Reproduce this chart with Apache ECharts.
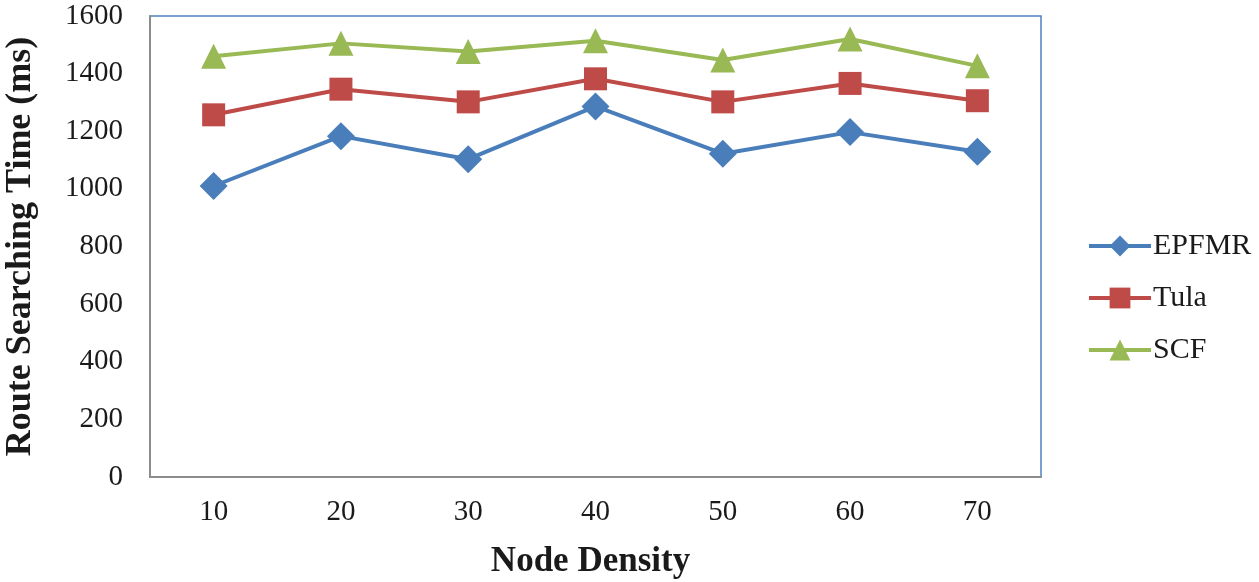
<!DOCTYPE html>
<html>
<head>
<meta charset="utf-8">
<script src="https://cdn.jsdelivr.net/npm/echarts@6/dist/echarts.min.js"></script>
<style>html,body{margin:0;padding:0;background:#fff}#c{width:1259px;height:582px}</style>
</head>
<body>
<div id="c"></div>
<script>
const categories = ['10','20','30','40','50','60','70'];
const epfmr = [1010, 1183, 1103, 1286, 1122, 1197, 1129];
const tula = [1257, 1346, 1302, 1382, 1302, 1366, 1306];
const scf = [1460, 1505, 1477, 1514, 1447, 1520, 1427];
const yTicks = {min: 0, max: 1600, interval: 200};

const font = 'Liberation Serif, Times New Roman, serif';
const chart = echarts.init(document.getElementById('c'));
function ser(name, data, color, symbol, size) {
  return {
    name, type: 'line', data, symbol, symbolSize: size,
    lineStyle: {color, width: 4}, itemStyle: {color},
    emphasis: {disabled: true}, animation: false
  };
}
chart.setOption({
  animation: false,
  grid: {left: 150, right: 218, top: 16, bottom: 105, containLabel: false, outerBoundsMode: 'none',
         show: true, borderColor: '#4F81BD', borderWidth: 1.5, backgroundColor: 'transparent'},
  legend: {
    orient: 'vertical', left: 1082, top: 226, itemGap: 22, itemWidth: 62, itemHeight: 26,
    lineStyle: {width: 4},
    textStyle: {fontFamily: font, fontSize: 30, color: '#1a1a1a', padding: [0,0,0,-3]},
    data: ['EPFMR','Tula','SCF']
  },
  xAxis: {
    type: 'category', data: categories, boundaryGap: true,
    name: 'Node Density', nameLocation: 'middle', nameGap: 67,
    nameTextStyle: {fontFamily: font, fontSize: 35, fontWeight: 'bold', color: '#1a1a1a', padding: [0,10,0,0]},
    axisLine: {lineStyle: {color: '#8c8c8c', width: 2}},
    axisTick: {show: false},
    axisLabel: {fontFamily: font, fontSize: 29, color: '#1a1a1a', margin: 21}
  },
  yAxis: {
    type: 'value', min: yTicks.min, max: yTicks.max, interval: yTicks.interval,
    name: 'Route Searching Time (ms)', nameLocation: 'middle', nameGap: 111,
    nameTextStyle: {fontFamily: font, fontSize: 36, fontWeight: 'bold', color: '#1a1a1a', padding: [0,0,0,0]},
    axisLine: {show: true, lineStyle: {color: '#8c8c8c', width: 2}},
    axisTick: {show: false},
    splitLine: {show: false},
    axisLabel: {fontFamily: font, fontSize: 29, color: '#1a1a1a', margin: 27, formatter: v => String(v)}
  },
  series: [
    ser('EPFMR', epfmr, '#4A7EBB', 'diamond', 28),
    ser('Tula', tula, '#BE4B48', 'rect', 23),
    ser('SCF', scf, '#98B954', 'triangle', 25)
  ]
});
</script>
</body>
</html>
